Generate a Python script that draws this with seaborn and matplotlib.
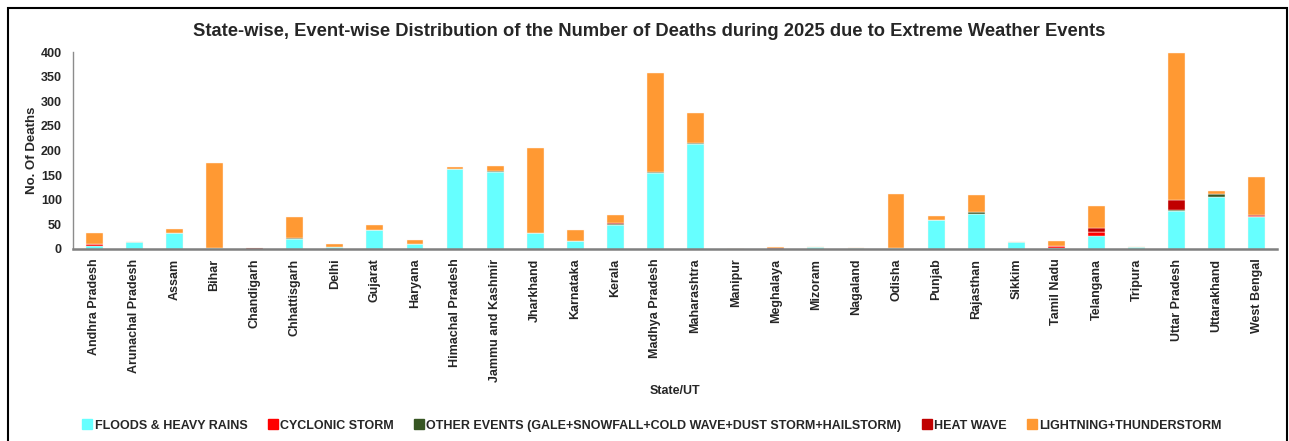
import matplotlib
matplotlib.use("Agg")
import matplotlib.pyplot as plt
import seaborn as sns
from matplotlib.lines import Line2D
from matplotlib.patches import Rectangle

# ---------- data ----------
states = ["Andhra Pradesh", "Arunachal Pradesh", "Assam", "Bihar", "Chandigarh",
          "Chhattisgarh", "Delhi", "Gujarat", "Haryana", "Himachal Pradesh",
          "Jammu and Kashmir", "Jharkhand", "Karnataka", "Kerala", "Madhya Pradesh",
          "Maharashtra", "Manipur", "Meghalaya", "Mizoram", "Nagaland", "Odisha",
          "Punjab", "Rajasthan", "Sikkim", "Tamil Nadu", "Telangana", "Tripura",
          "Uttar Pradesh", "Uttarakhand", "West Bengal"]

floods    = [7, 14, 32, 1, 0, 20, 4, 38, 11, 163, 156, 32, 16, 49, 154, 213, 0, 0, 5, 1,
             1, 58, 72, 14, 3, 27, 5, 78, 105, 64]
cyclonic  = [3, 0, 0, 0, 0, 0, 0, 0, 0, 0, 0, 0, 0, 0, 0, 0, 0, 0, 0, 0,
             1, 0, 0, 0, 3, 7, 0, 0, 0, 2]
other     = [0, 0, 0, 0, 0, 2, 0, 0, 0, 0, 3, 0, 0, 2, 3, 3, 0, 0, 0, 0,
             1, 0, 3, 0, 0, 0, 0, 2, 7, 0]
heat_wave = [0, 0, 0, 0, 1, 0, 0, 0, 0, 0, 0, 0, 0, 1, 0, 0, 0, 1, 0, 0,
             0, 0, 0, 0, 1, 9, 0, 20, 0, 3]
lightning = [23, 0, 9, 174, 1, 42, 6, 11, 7, 4, 9, 174, 22, 18, 200, 61, 0, 4, 0, 0,
             108, 10, 34, 0, 10, 45, 0, 299, 5, 78]

series_names = ["FLOODS & HEAVY RAINS", "CYCLONIC STORM",
                "OTHER EVENTS (GALE+SNOWFALL+COLD WAVE+DUST STORM+HAILSTORM)",
                "HEAT WAVE", "LIGHTNING+THUNDERSTORM"]
series_colors = ["#66FFFF", "#FF0000", "#375623", "#C00000", "#FF9933"]
yticks = [0, 50, 100, 150, 200, 250, 300, 350, 400]
# ---------------------------------------------

series = [floods, cyclonic, other, heat_wave, lightning]

sns.set_style("white")
plt.rcParams["font.family"] = ["Liberation Sans", "DejaVu Sans"]
plt.rcParams["font.weight"] = "bold"

fig = plt.figure(figsize=(12.89, 4.41), dpi=100)
ax = fig.add_axes([0.0566, 0.4354, 0.934, 0.4466])

# stacked bars, one seaborn layer per event type
bottom = [0] * len(states)
for vals, col in zip(series, series_colors):
    sns.barplot(x=states, y=vals, bottom=bottom, color=col, saturation=1,
                width=0.42, edgecolor="#fff4ea", linewidth=0.3, ax=ax)
    bottom = [b + v for b, v in zip(bottom, vals)]

ax.set_ylim(0, 400)
ax.set_xlim(-0.53, len(states) - 0.5)
ax.set_yticks(yticks)
ax.set_yticklabels([str(t) for t in yticks], fontsize=9, fontweight="bold")
ax.set_xticks(range(len(states)))
ax.set_xticklabels(states, rotation=90, fontsize=9, fontweight="bold")
ax.tick_params(axis="both", length=0)
ax.tick_params(axis="y", pad=8)
ax.tick_params(axis="x", pad=7)

for side in ["top", "right"]:
    ax.spines[side].set_visible(False)
ax.spines["left"].set_color("#8c8c8c")
ax.spines["left"].set_linewidth(1.0)
ax.spines["bottom"].set_color("#7f7f7f")
ax.spines["bottom"].set_linewidth(1.8)

ax.set_ylabel("No. Of Deaths", fontsize=9.5, fontweight="bold")
ax.yaxis.set_label_coords(-0.029, 0.5)
ax.set_xlabel("State/UT", fontsize=9, fontweight="bold")
ax.xaxis.set_label_coords(0.5, -0.69)

fig.suptitle("State-wise, Event-wise Distribution of the Number of Deaths during 2025 due to Extreme Weather Events",
             x=0.504, y=0.947, fontsize=13.2, fontweight="bold")

handles = [Line2D([0], [0], marker="s", linestyle="none", markersize=6.5,
                  markerfacecolor=c, markeredgecolor=c) for c in series_colors]
fig.legend(handles, series_names, loc="center", bbox_to_anchor=(0.5054, 0.035),
           ncol=5, frameon=False, handletextpad=0.1,
           columnspacing=1.5, handlelength=1.0, prop={"weight": "bold", "size": 9})

# outer frame like the original
fig.patches.append(Rectangle((8 / 1289, -0.02), 1279 / 1289, 1 - 8 / 441 + 0.02,
                             transform=fig.transFigure, fill=False,
                             edgecolor="black", linewidth=1.5))

fig.savefig("out.png", dpi=100)
